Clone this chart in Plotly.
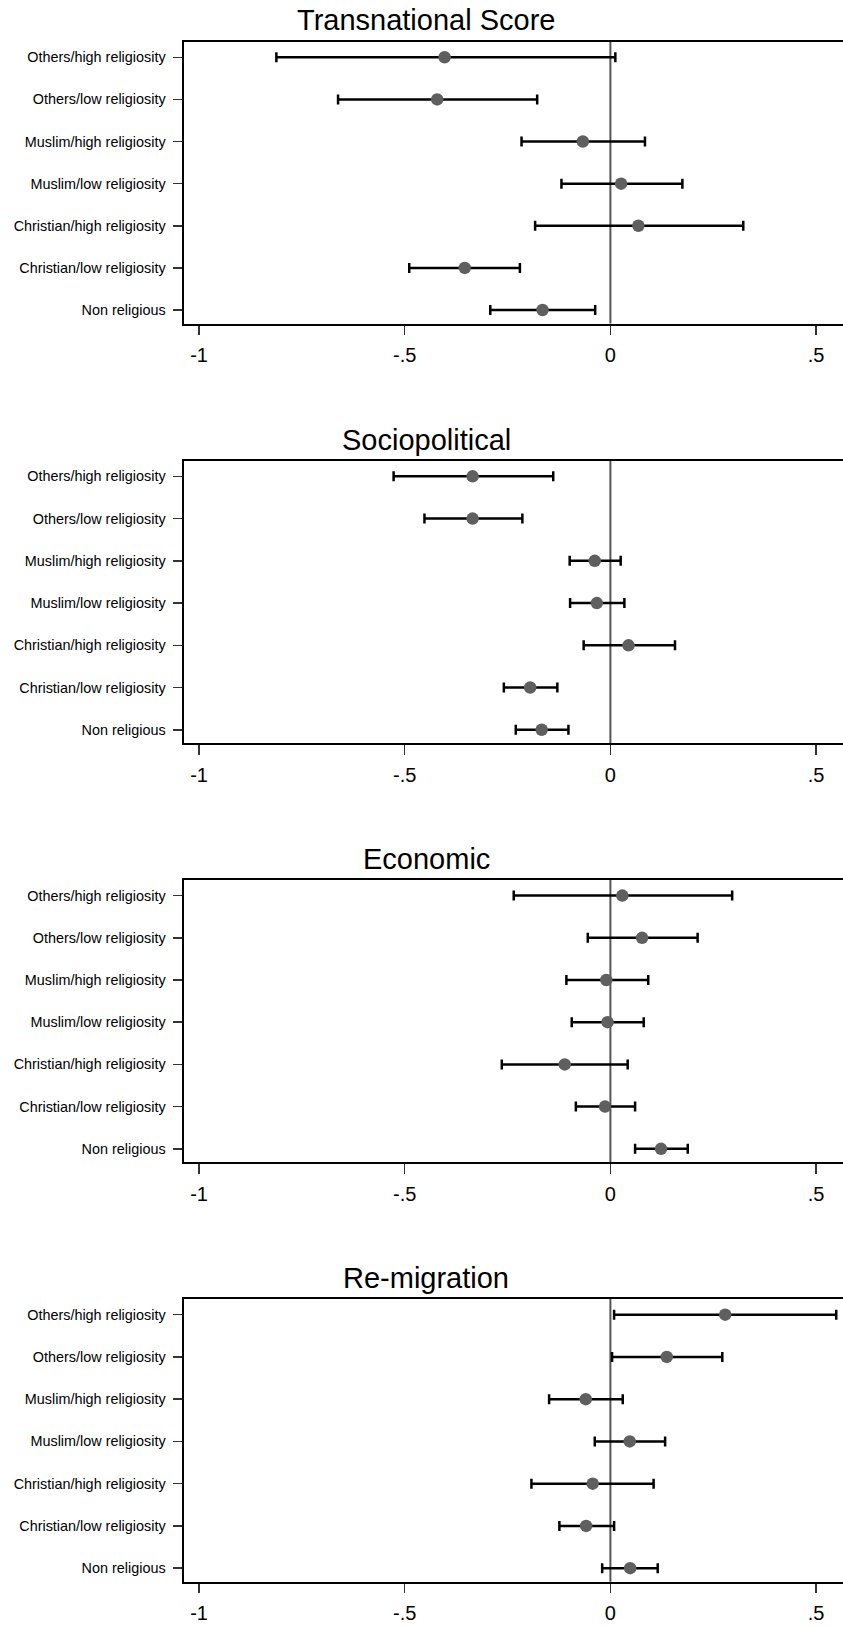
import plotly.graph_objects as go

# Categories listed bottom-to-top
categories = ["Non religious", "Christian/low religiosity", "Christian/high religiosity",
              "Muslim/low religiosity", "Muslim/high religiosity",
              "Others/low religiosity", "Others/high religiosity"]

panel_titles = ["Transnational Score", "Sociopolitical", "Economic", "Re-migration"]

trans_est = [-0.165, -0.354, 0.068, 0.026, -0.067, -0.421, -0.403]
trans_lo = [-0.292, -0.489, -0.183, -0.119, -0.216, -0.662, -0.812]
trans_hi = [-0.037, -0.220, 0.323, 0.175, 0.084, -0.178, 0.012]

socio_est = [-0.167, -0.195, 0.044, -0.033, -0.038, -0.335, -0.335]
socio_lo = [-0.230, -0.259, -0.065, -0.098, -0.099, -0.452, -0.527]
socio_hi = [-0.102, -0.129, 0.157, 0.034, 0.025, -0.214, -0.139]

econ_est = [0.123, -0.013, -0.111, -0.007, -0.010, 0.077, 0.029]
econ_lo = [0.060, -0.084, -0.264, -0.094, -0.107, -0.055, -0.235]
econ_hi = [0.188, 0.060, 0.042, 0.081, 0.092, 0.212, 0.296]

remig_est = [0.048, -0.059, -0.043, 0.047, -0.060, 0.137, 0.279]
remig_lo = [-0.020, -0.124, -0.192, -0.038, -0.149, 0.004, 0.009]
remig_hi = [0.115, 0.009, 0.105, 0.133, 0.030, 0.272, 0.549]

x_tickvals = [-1, -0.5, 0, 0.5]
x_ticktext = ["-1", "-.5", "0", ".5"]

panels = [
    (trans_est, trans_lo, trans_hi),
    (socio_est, socio_lo, socio_hi),
    (econ_est, econ_lo, econ_hi),
    (remig_est, remig_lo, remig_hi),
]

W, H = 843, 1626
L = 184
box_tops = [41.7, 460.7, 880.0, 1299.0]
box_bots = [323.5, 743.3, 1162.3, 1581.7]
title_y = [20.5, 439.5, 858.5, 1277.5]

FONT = "Liberation Sans, Arial, Helvetica, sans-serif"

fig = go.Figure()
layout = dict(
    width=W, height=H,
    margin=dict(l=L, r=0, t=0, b=0),
    paper_bgcolor="white", plot_bgcolor="white",
    showlegend=False,
    font=dict(family=FONT, color="black"),
)
annotations = []
shapes = []

for i, (est, lo, hi) in enumerate(panels):
    sfx = "" if i == 0 else str(i + 1)
    plus = [h - e for h, e in zip(hi, est)]
    minus = [e - l for e, l in zip(est, lo)]
    fig.add_trace(go.Scatter(
        x=est, y=categories, mode="markers",
        xaxis="x" + sfx, yaxis="y" + sfx,
        marker=dict(size=12.5, color="#5f5f5f", line=dict(width=0)),
        error_x=dict(type="data", symmetric=False, array=plus, arrayminus=minus,
                     color="black", thickness=2.5, width=5),
        hoverinfo="skip",
    ))
    dom = [1 - box_bots[i] / H, 1 - box_tops[i] / H]
    layout["xaxis" + sfx] = dict(
        domain=[0, 1], anchor="y" + sfx,
        range=[-1.0365, 0.5654],
        tickvals=x_tickvals, ticktext=x_ticktext,
        ticks="outside", ticklen=9.5, tickwidth=1.5, tickcolor="#333",
        ticklabelstandoff=3,
        tickfont=dict(size=20, family=FONT, color="black"),
        showline=True, linecolor="black", linewidth=2, mirror=True,
        showgrid=False, zeroline=False, fixedrange=True,
    )
    layout["yaxis" + sfx] = dict(
        domain=dom, anchor="x" + sfx,
        type="category", categoryorder="array", categoryarray=categories,
        range=[-0.32, 6.37],
        ticks="outside", ticklen=9.5, tickwidth=1.5, tickcolor="#333",
        ticklabelstandoff=4,
        tickfont=dict(size=14.4, family=FONT, color="black"),
        showline=True, linecolor="black", linewidth=2, mirror=False,
        showgrid=False, zeroline=False, fixedrange=True,
    )
    shapes.append(dict(type="line", xref="x" + sfx, yref="y" + sfx + " domain",
                       x0=0, x1=0, y0=0, y1=1,
                       line=dict(color="#555555", width=2), layer="below"))
    annotations.append(dict(
        text=panel_titles[i], xref="paper", yref="paper",
        x=(426 - L) / (W - L), y=1 - title_y[i] / H,
        xanchor="center", yanchor="middle", showarrow=False,
        font=dict(size=29, family=FONT, color="black"),
    ))

layout["annotations"] = annotations
layout["shapes"] = shapes
fig.update_layout(**layout)
fig.write_html(
    "out.html",
    config={"displayModeBar": False, "staticPlot": True},
    post_script="document.body.style.margin='0';document.body.style.overflow='hidden';",
)
